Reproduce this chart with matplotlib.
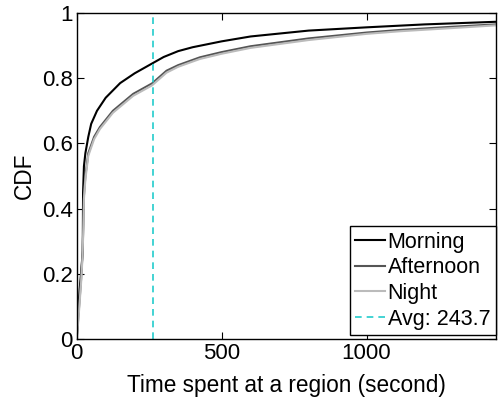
import matplotlib
matplotlib.use('Agg')
import matplotlib.pyplot as plt

plt.rcParams['font.family'] = ['Liberation Sans', 'DejaVu Sans']

# CDF curves (time in seconds)
morning_x = [0, 5, 10, 15, 21, 22, 25, 30, 40, 50, 70, 100, 150, 200, 260, 300, 350, 400, 500, 600, 800, 1000, 1200, 1445]
morning_cdf = [0, 0.08, 0.15, 0.2, 0.27, 0.45, 0.53, 0.57, 0.62, 0.66, 0.70, 0.74, 0.785, 0.815, 0.845, 0.865, 0.883, 0.895, 0.913, 0.928, 0.946, 0.956, 0.965, 0.973]

afternoon_x = [0, 5, 10, 15, 20, 23, 25, 30, 40, 60, 80, 125, 195, 260, 310, 350, 425, 500, 600, 800, 1000, 1115, 1300, 1445]
afternoon_cdf = [0, 0.06, 0.12, 0.18, 0.26, 0.35, 0.44, 0.50, 0.57, 0.62, 0.65, 0.70, 0.752, 0.784, 0.823, 0.84, 0.864, 0.88, 0.898, 0.922, 0.94, 0.948, 0.958, 0.965]

night_x = [0, 5, 10, 15, 20, 23, 25, 30, 40, 60, 80, 125, 195, 260, 310, 350, 425, 500, 600, 800, 1000, 1115, 1300, 1445]
night_cdf = [0, 0.05, 0.11, 0.17, 0.25, 0.34, 0.43, 0.49, 0.562, 0.613, 0.644, 0.694, 0.746, 0.778, 0.817, 0.835, 0.859, 0.875, 0.893, 0.917, 0.936, 0.944, 0.954, 0.962]

avg_label = "Avg: 243.7"
avg_pos = 262  # where the dashed line sits in the picture

fig = plt.figure(figsize=(4.98, 4.01), dpi=100)
ax = fig.add_axes([0.154, 0.1546, 0.841, 0.813])

ax.plot(morning_x, morning_cdf, color='black', lw=1.5, label='Morning')
ax.plot(afternoon_x, afternoon_cdf, color='#555555', lw=1.5, label='Afternoon')
ax.plot(night_x, night_cdf, color='#BBBBBB', lw=1.5, label='Night')
ax.axvline(avg_pos, color='#22CCCC', lw=1.2, ls=(0, (4, 3)), label=avg_label)

ax.set_xlim(0, 1445)
ax.set_ylim(0, 1)
ax.set_xticks([0, 500, 1000])
ax.set_xticklabels(['0', '500', '1000'])
ax.set_yticks([0, 0.2, 0.4, 0.6, 0.8, 1])
ax.set_yticklabels(['0', '0.2', '0.4', '0.6', '0.8', '1'])
ax.tick_params(direction='in', length=5, width=0.8, top=True, right=True, labelsize=16, pad=3)
for s in ax.spines.values():
    s.set_linewidth(1.0)

ax.set_xlabel('Time spent at a region (second)', fontsize=16.3, labelpad=7)
ax.set_ylabel('CDF', fontsize=16.3, labelpad=4)

leg = ax.legend(loc='lower right', bbox_to_anchor=(1.0, 0.012), fontsize=15.5, frameon=True,
                fancybox=False, edgecolor='black', framealpha=1, borderpad=0.25,
                labelspacing=0.22, handlelength=1.4, handletextpad=0.1, borderaxespad=0)
leg.get_frame().set_linewidth(1.0)

plt.savefig('out.png', dpi=100)
plt.close()
